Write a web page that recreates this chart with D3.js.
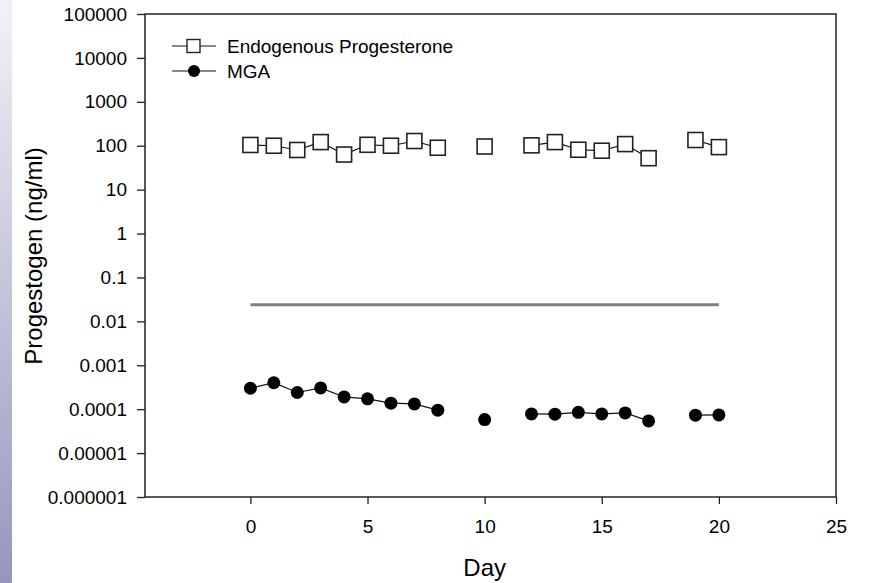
<!DOCTYPE html>
<html>
<head>
<meta charset="utf-8">
<script src="https://cdn.jsdelivr.net/npm/d3@7"></script>
<style>
  body { margin: 0; background: #fff; }
  svg { display: block; font-family: "Liberation Sans", Arial, sans-serif; }
</style>
</head>
<body>
<svg id="chart" width="871" height="583"></svg>
<script>
// days and values (null = no sample that day)
const days = [0, 1, 2, 3, 4, 5, 6, 7, 8, 9, 10, 11, 12, 13, 14, 15, 16, 17, 18, 19, 20];
const progesterone = [104, 100, 80, 121, 63, 105, 100, 128, 90, null, 96, null, 102, 121, 81, 77, 109, 52, null, 135, 93];
const mga = [3.0e-4, 4.0e-4, 2.4e-4, 3.05e-4, 1.9e-4, 1.72e-4, 1.37e-4, 1.32e-4, 0.95e-4, null, 5.8e-5, null, 7.8e-5, 7.7e-5, 8.5e-5, 7.8e-5, 8.2e-5, 5.4e-5, null, 7.3e-5, 7.4e-5];
const limitLine = [{ day: 0, v: 0.024 }, { day: 20, v: 0.024 }];
const yTicks = [100000, 10000, 1000, 100, 10, 1, 0.1, 0.01, 0.001, 0.0001, 0.00001, 0.000001];
const yTickLabels = ["100000", "10000", "1000", "100", "10", "1", "0.1", "0.01", "0.001", "0.0001", "0.00001", "0.000001"];
const xTicks = [0, 5, 10, 15, 20, 25];
const legendNames = ["Endogenous Progesterone", "MGA"];

const svg = d3.select("#chart");

// slide background strip on the left
const defs = svg.append("defs");
const grad = defs.append("linearGradient").attr("id", "strip")
  .attr("x1", 0).attr("y1", 0).attr("x2", 0).attr("y2", 1);
grad.append("stop").attr("offset", "0%").attr("stop-color", "#f2f2f6");
grad.append("stop").attr("offset", "100%").attr("stop-color", "#9696be");
svg.append("rect").attr("x", 0).attr("y", 0).attr("width", 12).attr("height", 583)
  .attr("fill", "url(#strip)");

const pLeft = 145, pRight = 836, pTop = 14, pBottom = 497;

const x = d3.scaleLinear().domain([-4.5, 25]).range([pLeft, pRight]);
const y = d3.scaleLog().domain([0.000001, 100000]).range([pBottom, pTop]);

const axisColor = "#222";
const tickFont = 19;

// y axis
const yAxis = svg.append("g").attr("transform", `translate(${pLeft},0)`)
  .call(d3.axisLeft(y).tickValues(yTicks).tickFormat((d, i) => yTickLabels[i]).tickSize(8).tickPadding(10));
yAxis.select(".domain").remove();
yAxis.selectAll("line").attr("stroke", axisColor).attr("stroke-width", 1.3);
yAxis.selectAll("text").attr("font-size", tickFont).attr("fill", "#000")
  .attr("font-family", "Liberation Sans, Arial, sans-serif");

// x axis
const xAxis = svg.append("g").attr("transform", `translate(0,${pBottom})`)
  .call(d3.axisBottom(x).tickValues(xTicks).tickFormat(d3.format("d")).tickSize(7).tickPadding(16));
xAxis.select(".domain").remove();
xAxis.selectAll("line").attr("stroke", axisColor).attr("stroke-width", 1.3);
xAxis.selectAll("text").attr("font-size", tickFont).attr("fill", "#000")
  .attr("font-family", "Liberation Sans, Arial, sans-serif");

// frame
svg.append("rect").attr("x", pLeft).attr("y", pTop)
  .attr("width", pRight - pLeft).attr("height", pBottom - pTop)
  .attr("fill", "none").attr("stroke", axisColor).attr("stroke-width", 1.5);

// axis titles
svg.append("text").attr("x", x(10)).attr("y", 576).attr("text-anchor", "middle")
  .attr("font-size", 24).text("Day");
svg.append("text").attr("transform", `translate(42,256) rotate(-90)`)
  .attr("text-anchor", "middle").attr("font-size", 24).text("Progestogen (ng/ml)");

// gray reference line
svg.append("path").datum(limitLine)
  .attr("d", d3.line().x(d => x(d.day)).y(d => y(d.v)))
  .attr("stroke", "#808080").attr("stroke-width", 3).attr("fill", "none");

function series(values) {
  return days.map((d, i) => ({ day: d, v: values[i] }));
}
const line = d3.line().defined(d => d.v != null).x(d => x(d.day)).y(d => y(d.v));

const pData = series(progesterone);
const mData = series(mga);

svg.append("path").datum(pData).attr("d", line)
  .attr("stroke", "#111").attr("stroke-width", 1.2).attr("fill", "none");
svg.append("path").datum(mData).attr("d", line)
  .attr("stroke", "#111").attr("stroke-width", 1.2).attr("fill", "none");

svg.selectAll(".sq").data(pData.filter(d => d.v != null)).enter().append("rect")
  .attr("class", "sq")
  .attr("x", d => x(d.day) - 7.5).attr("y", d => y(d.v) - 7.5)
  .attr("width", 15).attr("height", 15)
  .attr("fill", "#fff").attr("stroke", "#222").attr("stroke-width", 1.6);

svg.selectAll(".dot").data(mData.filter(d => d.v != null)).enter().append("circle")
  .attr("class", "dot")
  .attr("cx", d => x(d.day)).attr("cy", d => y(d.v)).attr("r", 6.5)
  .attr("fill", "#000");

// legend
const legend = svg.append("g");
legendNames.forEach((name, i) => {
  const ly = 46 + i * 25;
  legend.append("line").attr("x1", 172).attr("x2", 216).attr("y1", ly).attr("y2", ly)
    .attr("stroke", "#111").attr("stroke-width", 1.2);
  if (i === 0) {
    legend.append("rect").attr("x", 187).attr("y", ly - 6.5).attr("width", 13).attr("height", 13)
      .attr("fill", "#fff").attr("stroke", "#222").attr("stroke-width", 1.4);
  } else {
    legend.append("circle").attr("cx", 194).attr("cy", ly).attr("r", 6).attr("fill", "#000");
  }
  legend.append("text").attr("x", 227).attr("y", ly + 6.5).attr("font-size", tickFont).text(name);
});
</script>
</body>
</html>
